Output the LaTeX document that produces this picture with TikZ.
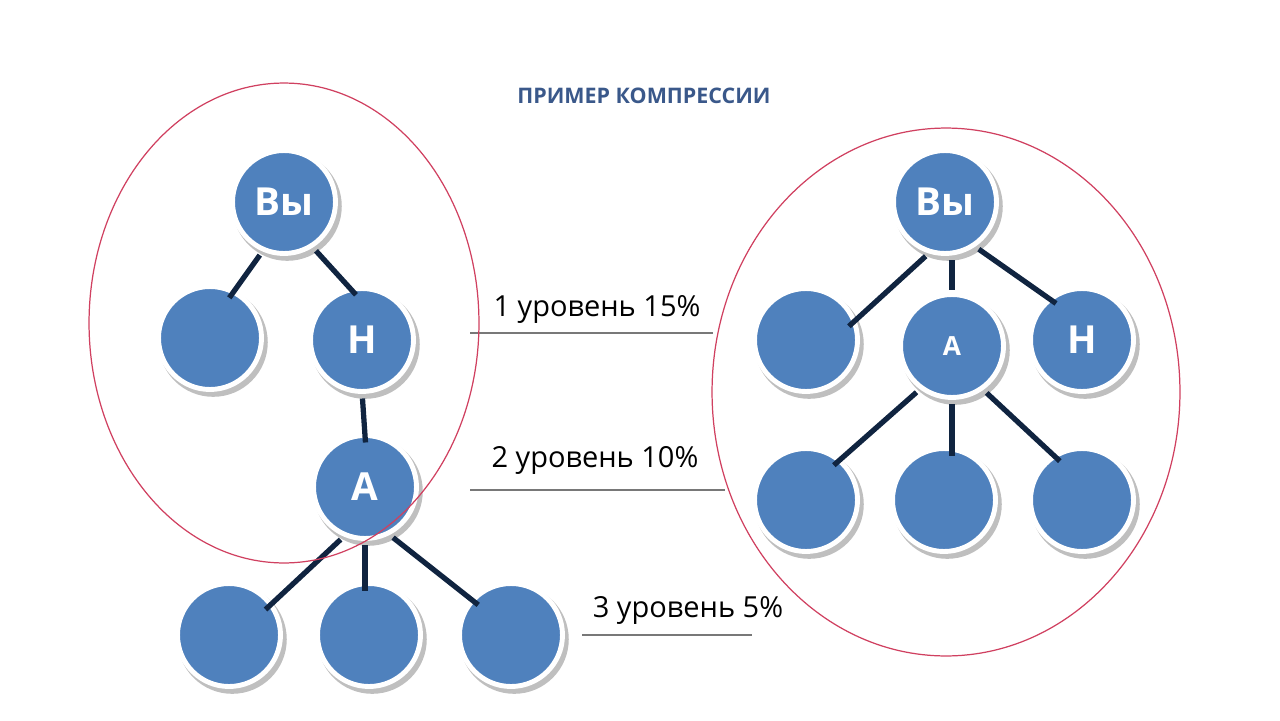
\documentclass[tikz,border=0pt]{standalone}
\usepackage{fontspec}
\setmainfont{Open Sans}
\usetikzlibrary{shadows,positioning}
\definecolor{nodeblue}{RGB}{79,129,189}
\definecolor{linknavy}{RGB}{16,36,64}
\definecolor{titleblue}{RGB}{58,88,138}
\definecolor{ringred}{RGB}{208,64,96}
\definecolor{rulegrey}{RGB}{120,120,120}

\begin{document}
\begin{tikzpicture}[x=0.02cm, y=-0.02cm,
    person/.style={circle, fill=nodeblue, draw=white, line width=2.8pt, minimum size=2.06cm,
                 inner sep=0pt, outer sep=0pt, text=white, font=\bfseries\fontsize{22}{22}\selectfont,
                 drop shadow={shadow xshift=0.06cm, shadow yshift=-0.08cm, shadow scale=1.06,
                              fill=gray!50, opacity=1}},
    link/.style={linknavy, line width=3pt, shorten <=0.14cm, shorten >=-0.14cm},
    levelrule/.style={rulegrey, line width=1.1pt},
    leveltext/.style={anchor=base, font=\fontsize{16.5}{18}\selectfont},
    group/.style={ringred, line width=0.7pt}
]
\useasboundingbox (0,0) rectangle (1280,720);

\node[anchor=base, text=titleblue, font=\bfseries\fontsize{12.2}{14}\selectfont] (title) at (644,103) {ПРИМЕР КОМПРЕССИИ};

% before compression
\node[person] (lvy) at (284,202) {Вы};
\node[person] (lx)  at (210,338) {};
\node[person] (ln)  at (362,340) {Н};
\node[person] (la)  at (365,487) {А};
\node[person] (lb1) at (229,635) {};
\node[person] (lb2) at (369,635) {};
\node[person] (lb3) at (511,635) {};

\draw[link] (lvy.247) -- (lx.63);
\draw[link] (lvy.302) -- (ln.102);
\draw[link] (ln.south) -- (la.north);
\draw[link] (la.248) -- (lb1.36);
\draw[link] (la.south) -- (la.south |- lb2.north);
\draw[link] (la.296) -- (lb3.138);

% after compression
\node[person] (rvy) at (945,202) {Вы};
\node[person] (rx)  at (806,340) {};
\node[person, font=\bfseries\fontsize{15}{15}\selectfont] (ra) at (952,346) {А};
\node[person] (rn)  at (1082,340) {Н};
\node[person] (rb1) at (806,500) {};
\node[person] (rb2) at (944,500) {};
\node[person] (rb3) at (1082,500) {};

\draw[link] (rvy.254) -- (rx.21);
\draw[link, shorten >=0.1cm] (ra.north |- rvy.south) -- (ra.north);
\draw[link] (rvy.303) -- (rn.128);
\draw[link] (ra.234) -- (rb1.50);
\draw[link] (ra.south) -- (ra.south |- rb2.north);
\draw[link] (ra.305) -- (rb3.122);

% levels
\node[leveltext] (lev1) at (597,316) {1 уровень 15\%};
\node[leveltext] (lev2) at (595,467) {2 уровень 10\%};
\node[leveltext] (lev3) at (688,617) {3 уровень 5\%};
\draw[levelrule] (470,333) -- (713,333);
\draw[levelrule] (470,490) -- (725,490);
\draw[levelrule] (582,635) -- (752,635);

\draw[group] (284,323) ellipse [x radius=3.9cm, y radius=4.8cm];
\draw[group] (946,392) ellipse [x radius=4.68cm, y radius=5.28cm];
\end{tikzpicture}
\end{document}
